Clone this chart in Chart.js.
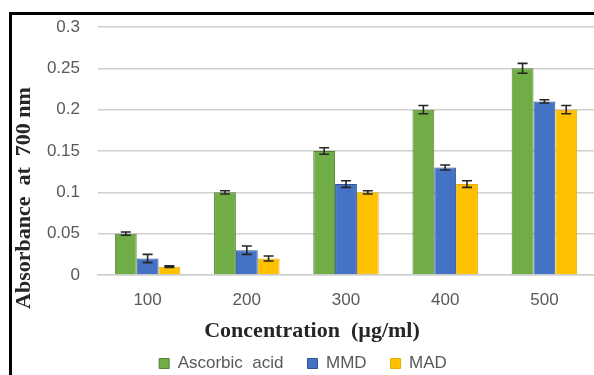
<!DOCTYPE html>
<html lang="en">
<head>
    <meta charset="UTF-8">
    <title>Absorbance at 700 nm</title>
    <script src="https://cdn.jsdelivr.net/npm/chart.js"></script>
    <style>
        body { margin: 0; background: #fff; }
        .frame {
            position: absolute; left: 9px; top: 12px;
            width: 582px; height: 360px; overflow: hidden;
            border-left: 3px solid #000; border-top: 3px solid #000;
        }
        .frame canvas { display: block; }
    </style>
</head>
<body>
    <div class="frame"><canvas id="chart" width="582" height="372"></canvas></div>

    <script>
// Data
const concentrations = ['100', '200', '300', '400', '500'];
const ascorbicAcid = [0.05, 0.10, 0.15, 0.20, 0.25];
const mmd = [0.02, 0.03, 0.11, 0.13, 0.21];
const mad = [0.01, 0.02, 0.10, 0.11, 0.20];
const ascorbicErr = [0.002, 0.002, 0.004, 0.005, 0.006];
const mmdErr = [0.005, 0.005, 0.004, 0.003, 0.002];
const madErr = [0.001, 0.003, 0.002, 0.004, 0.005];
const yTicks = [0, 0.05, 0.1, 0.15, 0.2, 0.25, 0.3];

const errors = [ascorbicErr, mmdErr, madErr];

// Draws the +/- error bars on top of every bar
const errorBars = {
    id: 'errorBars',
    afterDatasetsDraw(chart) {
        const ctx = chart.ctx;
        const y = chart.scales.y;
        ctx.save();
        ctx.strokeStyle = '#262626';
        ctx.lineWidth = 1.6;
        chart.data.datasets.forEach((ds, i) => {
            const meta = chart.getDatasetMeta(i);
            meta.data.forEach((bar, j) => {
                const v = ds.data[j];
                const e = errors[i][j];
                const top = y.getPixelForValue(v + e);
                const bottom = y.getPixelForValue(v - e);
                const x = bar.x;
                ctx.beginPath();
                ctx.moveTo(x, top); ctx.lineTo(x, bottom);
                ctx.moveTo(x - 5, top); ctx.lineTo(x + 5, top);
                ctx.moveTo(x - 5, bottom); ctx.lineTo(x + 5, bottom);
                ctx.stroke();
            });
        });
        ctx.restore();
    }
};

// Axis titles sit off-centre in the original, so they are drawn here
const axisTitles = {
    id: 'axisTitles',
    afterDraw(chart) {
        const ctx = chart.ctx;
        ctx.save();
        ctx.fillStyle = '#262626';
        ctx.font = 'bold 22px "Liberation Serif"';
        ctx.textAlign = 'center';
        ctx.textBaseline = 'middle';
        ctx.fillText('Concentration  (µg/ml)', 300, 316);
        ctx.translate(12, 183);
        ctx.rotate(-Math.PI / 2);
        ctx.fillText('Absorbance  at  700 nm', 0, 0);
        ctx.restore();
    }
};

const tickFont = { family: 'Liberation Sans', size: 17 };

new Chart(document.getElementById('chart'), {
    type: 'bar',
    data: {
        labels: concentrations,
        datasets: [
            { label: 'Ascorbic  acid', data: ascorbicAcid, backgroundColor: '#70AD47', borderColor: '#548235', borderWidth: 1 },
            { label: 'MMD', data: mmd, backgroundColor: '#4472C4', borderColor: '#2F5597', borderWidth: 1 },
            { label: 'MAD', data: mad, backgroundColor: '#FFC000', borderColor: '#E6AD00', borderWidth: 1 }
        ]
    },
    options: {
        responsive: false,
        animation: false,
        layout: { padding: { top: 12, right: 0, left: 0, bottom: 5 } },
        datasets: { bar: { categoryPercentage: 0.66, barPercentage: 1 } },
        scales: {
            x: {
                grid: { display: false, drawTicks: false },
                border: { display: true, color: '#d0d0d0', width: 1.5 },
                ticks: { font: tickFont, color: '#595959', padding: 15 },
                afterFit(scale) { scale.height = 56; }
            },
            y: {
                min: 0, max: 0.3,
                afterBuildTicks(scale) { scale.ticks = yTicks.map(v => ({ value: v })); },
                grid: { color: '#d0d0d0', lineWidth: 1.5, drawTicks: false },
                border: { display: false },
                ticks: {
                    font: tickFont, color: '#595959', padding: 18,
                    callback: v => String(Number(v.toFixed(2)))
                },
                afterFit(scale) {
                    scale.width = 86;
                    scale.paddingTop = 0;
                    scale.paddingBottom = 0;
                }
            }
        },
        plugins: {
            legend: {
                display: true,
                position: 'bottom',
                labels: { font: tickFont, color: '#595959', boxWidth: 10, boxHeight: 10, padding: 24 }
            },
            tooltip: { enabled: false }
        }
    },
    plugins: [errorBars, axisTitles]
});
    </script>
</body>
</html>
